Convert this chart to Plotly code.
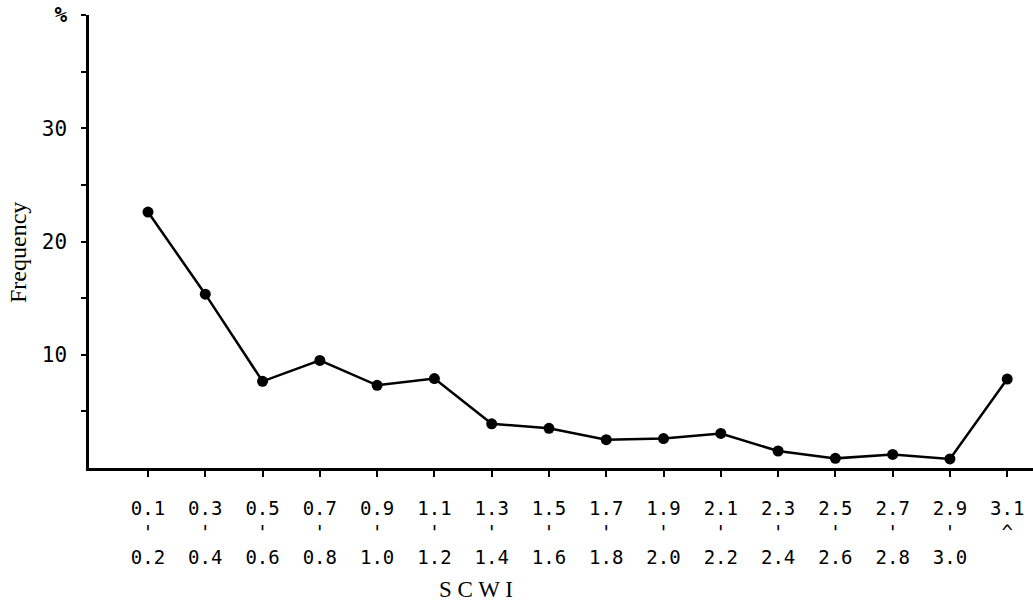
import plotly.graph_objects as go

# SCWI class bounds (lower / upper) and frequency in %
lower = ["0.1", "0.3", "0.5", "0.7", "0.9", "1.1", "1.3", "1.5",
         "1.7", "1.9", "2.1", "2.3", "2.5", "2.7", "2.9", "3.1"]
upper = ["0.2", "0.4", "0.6", "0.8", "1.0", "1.2", "1.4", "1.6",
         "1.8", "2.0", "2.2", "2.4", "2.6", "2.8", "3.0", None]
freq = [22.6, 15.35, 7.65, 9.5, 7.3, 7.9, 3.9, 3.5,
        2.5, 2.6, 3.05, 1.5, 0.85, 1.2, 0.8, 7.85]

y_ticks = [5, 10, 15, 20, 25, 30, 35, 40]
y_labels = ["", "10", "", "20", "", "30", "", "<b>%</b>"]

serif = "Liberation Serif"

ticktext = []
for lo, up in zip(lower, upper):
    if up is None:
        ticktext.append(lo + "<br>^")
    else:
        ticktext.append(lo + "<br>'<br>" + up)

x = list(range(len(freq)))

fig = go.Figure()
fig.add_trace(go.Scatter(
    x=x, y=freq, mode="lines+markers",
    line=dict(color="black", width=2.5),
    marker=dict(color="black", size=11),
    showlegend=False,
))

fig.update_layout(
    width=1033, height=605,
    margin=dict(l=89, r=0, t=15, b=137),
    paper_bgcolor="white", plot_bgcolor="white",
    font=dict(family="DejaVu Sans Mono", size=18, color="black"),
    xaxis=dict(
        range=[-1.03, 15.45],
        tickvals=x, ticktext=ticktext,
        tickfont=dict(size=19),
        ticks="outside", ticklen=6, tickwidth=2, tickcolor="black",
        showline=True, linecolor="black", linewidth=2.5,
        showgrid=False, zeroline=False, automargin=False,
        ticklabelstandoff=15,
    ),
    yaxis=dict(
        range=[0, 40],
        tickvals=y_ticks, ticktext=y_labels,
        tickfont=dict(size=21),
        ticks="outside", ticklen=5, tickwidth=2, tickcolor="black",
        showline=True, linecolor="black", linewidth=2.5,
        showgrid=False, zeroline=False, automargin=False,
        ticklabelstandoff=10,
    ),
)

# axis titles placed as annotations to match the scan's positions
fig.add_annotation(
    text="Frequency", x=(18 - 89) / 944, y=(468 - 253) / 453,
    xref="paper", yref="paper", xanchor="center", yanchor="middle",
    textangle=-90, showarrow=False,
    font=dict(family=serif, size=24, color="black"),
)
fig.add_annotation(
    text="S C W I", x=(476 - 89) / 944, y=-(604 - 468) / 453,
    xref="paper", yref="paper", yanchor="bottom", showarrow=False,
    font=dict(family=serif, size=23, color="black"),
)

fig.write_html("out.html", config={"displayModeBar": False},
               post_script="document.body.style.margin='0';")
